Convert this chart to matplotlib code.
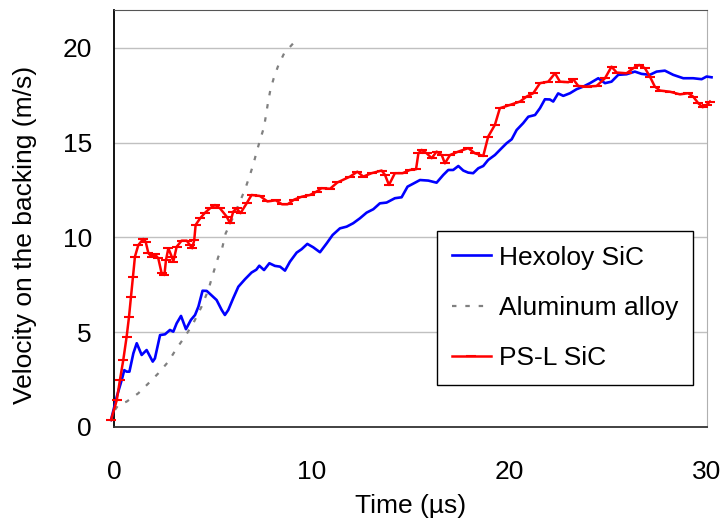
import matplotlib
matplotlib.use("Agg")
import matplotlib.pyplot as plt

plt.rcParams["font.family"] = ["Liberation Sans", "DejaVu Sans"]

# Hexoloy SiC (solid blue)
hex_t = [-0.15, 0.14, 0.39, 0.52, 0.64, 0.78, 0.98, 1.15, 1.4, 1.65, 1.96, 2.07,
         2.33, 2.58, 2.83, 3.0, 3.17, 3.39, 3.64, 3.89, 4.1, 4.27, 4.48, 4.69,
         4.91, 5.19, 5.45, 5.61, 5.78, 6.03, 6.29, 6.63, 6.96, 7.2, 7.35, 7.59,
         7.86, 8.14, 8.4, 8.65, 8.9, 9.24, 9.49, 9.78, 10.08, 10.42, 10.76, 11.06,
         11.43, 11.77, 12.1, 12.44, 12.78, 13.12, 13.45, 13.79, 14.21, 14.55, 14.85,
         15.14, 15.48, 15.9, 16.32, 16.66, 16.91, 17.16, 17.42, 17.67, 17.92, 18.17,
         18.43, 18.68, 18.93, 19.27, 19.61, 19.86, 20.12, 20.37, 20.7, 20.96, 21.3,
         21.55, 21.8, 22.05, 22.22, 22.47, 22.73, 23.07, 23.4, 23.74, 24.08, 24.5,
         24.84, 25.17, 25.51, 25.93, 26.35, 26.69, 27.11, 27.45, 27.87, 28.29, 28.8,
         29.3, 29.73, 29.98, 30.23]
hex_v = [0.37, 1.6, 2.48, 3.0, 2.92, 2.92, 3.89, 4.42, 3.8, 4.06, 3.45, 3.62,
         4.85, 4.89, 5.12, 5.03, 5.47, 5.86, 5.16, 5.65, 5.91, 6.35, 7.19, 7.18,
         6.97, 6.7, 6.17, 5.91, 6.17, 6.79, 7.4, 7.8, 8.15, 8.3, 8.51, 8.28,
         8.64, 8.5, 8.46, 8.25, 8.72, 9.2, 9.38, 9.66, 9.48, 9.22, 9.69, 10.13,
         10.48, 10.57, 10.75, 11.01, 11.31, 11.49, 11.8, 11.84, 12.07, 12.12, 12.68,
         12.84, 13.03, 13.0, 12.89, 13.3, 13.56, 13.56, 13.77, 13.53, 13.42, 13.39,
         13.65, 13.77, 14.09, 14.35, 14.71, 14.97, 15.18, 15.67, 16.03, 16.37, 16.46,
         16.82, 17.29, 17.28, 17.17, 17.6, 17.47, 17.61, 17.82, 17.96, 18.14, 18.4,
         18.14, 18.22, 18.58, 18.61, 18.75, 18.63, 18.58, 18.75, 18.8, 18.58, 18.4,
         18.4, 18.35, 18.49, 18.45]

# Aluminum alloy (grey dashes)
al_t = [0.05, 0.22, 0.64, 1.23, 1.74, 2.24, 2.75, 3.17, 3.59, 4.01, 4.43, 4.77,
        5.02, 5.28, 5.45, 5.65, 5.87, 6.37, 6.63, 6.85, 7.05, 7.22, 7.4, 7.59,
        7.69, 7.79, 7.91, 8.08, 8.31, 8.61, 9.1]
al_v = [0.9, 1.16, 1.34, 1.78, 2.3, 2.83, 3.45, 4.15, 4.77, 5.47, 6.35, 7.23,
        8.11, 8.99, 9.34, 10.22, 10.7, 11.89, 12.54, 13.21, 13.86, 14.53, 15.18, 15.82,
        16.46, 17.11, 17.78, 18.4, 19.07, 19.72, 20.28]

# PS-L SiC (red with dash markers)
psl_t = [-0.15, 0.14, 0.3, 0.47, 0.64, 0.76, 0.86, 0.96, 1.06, 1.23, 1.48, 1.6,
         1.74, 1.9, 2.07, 2.24, 2.41, 2.55, 2.63, 2.75, 2.92, 3.0, 3.17, 3.42,
         3.68, 3.84, 3.96, 4.06, 4.13, 4.35, 4.6, 4.86, 5.11, 5.36, 5.7, 5.87,
         6.03, 6.2, 6.4, 6.71, 6.96, 7.38, 7.76, 8.18, 8.5, 8.78, 9.12, 9.5,
         9.91, 10.25, 10.5, 10.93, 11.3, 11.94, 12.31, 12.61, 13.03, 13.54, 13.71,
         13.91, 14.21, 14.6, 14.97, 15.28, 15.4, 15.56, 15.82, 16.07, 16.32, 16.58,
         16.74, 17.0, 17.42, 17.92, 18.26, 18.68, 18.93, 19.27, 19.52, 20.03, 20.54,
         20.87, 21.21, 21.55, 21.97, 22.31, 22.56, 22.98, 23.23, 23.49, 23.91, 24.41,
         24.84, 25.17, 25.43, 25.93, 26.27, 26.57, 26.86, 27.11, 27.36, 27.62, 28.12,
         28.63, 29.05, 29.3, 29.56, 29.78, 29.98, 30.15]
psl_v = [0.37, 1.42, 2.48, 3.54, 4.77, 5.82, 6.88, 7.93, 8.99, 9.6, 9.92, 9.78,
         9.17, 8.99, 9.11, 8.9, 8.11, 8.02, 8.81, 9.43, 8.99, 8.72, 9.51, 9.83,
         9.83, 9.6, 9.43, 9.87, 10.66, 11.0, 11.3, 11.54, 11.71, 11.54, 11.1, 10.75,
         11.36, 11.54, 11.28, 11.8, 12.24, 12.19, 11.9, 11.96, 11.75, 11.75, 12.0, 12.15,
         12.24, 12.42, 12.6, 12.57, 12.9, 13.21, 13.47, 13.21, 13.39, 13.53, 13.3,
         12.77, 13.39, 13.39, 13.56, 13.6, 14.44, 14.62, 14.44, 14.18, 14.53, 14.35,
         13.91, 14.35, 14.53, 14.71, 14.44, 14.3, 15.32, 15.94, 16.82, 16.99, 17.17,
         17.43, 17.61, 18.14, 18.22, 18.66, 18.22, 18.19, 18.35, 17.99, 17.96, 17.99,
         18.4, 19.01, 18.7, 18.66, 18.93, 19.1, 18.93, 18.49, 17.96, 17.75, 17.69,
         17.55, 17.61, 17.43, 17.08, 16.87, 16.99, 17.17]

x_ticks = [0, 10, 20, 30]
y_ticks = [0, 5, 10, 15, 20]

FS = 19

fig = plt.figure(figsize=(7.21, 5.2), dpi=100)
ax = fig.add_axes([114 / 721, 93 / 520, 593 / 721, 417 / 520])

ax.plot(hex_t, hex_v, color="#0000ff", lw=1.9, label="Hexoloy SiC",
        clip_on=False, zorder=3)
ax.plot(al_t, al_v, color="#808080", lw=1.6, dashes=(2, 4),
        label="Aluminum alloy", clip_on=False, zorder=3)
ax.plot(psl_t, psl_v, color="#ff0000", lw=1.8, marker="_", ms=7, mew=1.5,
        label="PS-L SiC", clip_on=False, zorder=4)

ax.set_xlim(0, 30)
ax.set_ylim(0, 22)
ax.set_xticks(x_ticks)
ax.set_yticks(y_ticks)
ax.tick_params(axis="both", length=0, labelsize=FS)
ax.tick_params(axis="x", pad=24)
ax.tick_params(axis="y", pad=16)

for y in y_ticks[1:]:
    ax.axhline(y, color="#c0c0c0", lw=1, zorder=1)

ax.spines["left"].set_color("black")
ax.spines["left"].set_linewidth(1.3)
ax.spines["bottom"].set_color("#333333")
ax.spines["bottom"].set_linewidth(1.3)
ax.spines["top"].set_color("#555555")
ax.spines["right"].set_color("#b0b0b0")

ax.set_xlabel("Time (\u00b5s)", fontsize=FS)
ax.xaxis.set_label_coords(0.5, -0.16)
ax.set_ylabel("Velocity on the backing (m/s)", fontsize=FS)
ax.yaxis.set_label_coords(-0.13, 0.46)

leg = ax.legend(loc="upper left", bbox_to_anchor=(437 / 721, 1 - 231 / 520),
                bbox_transform=fig.transFigure, borderaxespad=0, fontsize=FS,
                frameon=True, fancybox=False, framealpha=1, edgecolor="black",
                borderpad=0.55, labelspacing=1.0, handlelength=1.5,
                handletextpad=0.3, numpoints=1)
leg.get_frame().set_linewidth(1.0)

fig.savefig("out.png", dpi=100)
